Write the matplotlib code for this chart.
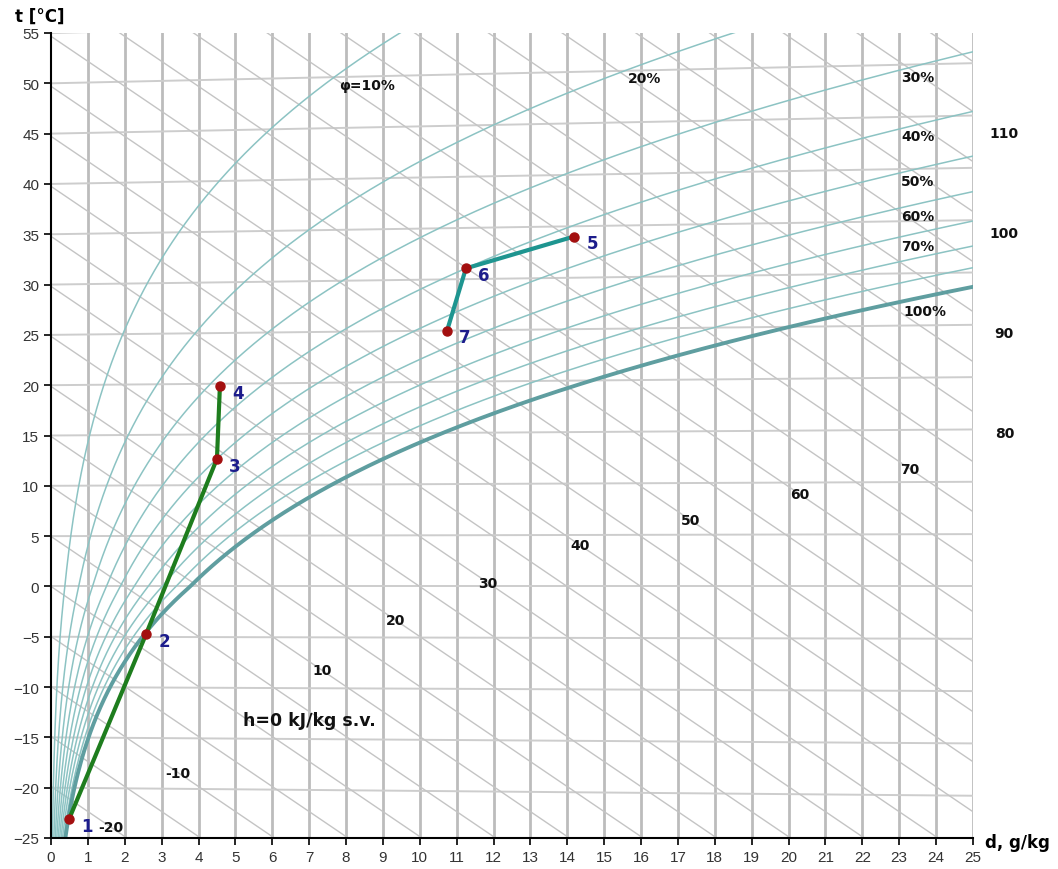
import numpy as np
import matplotlib
matplotlib.use("Agg")
import matplotlib.pyplot as plt

# chart data
pressure = 101325.0                       # Pa
isotherms = list(range(-25, 60, 5))       # t lines, deg C
isenthalps = list(range(-25, 120, 5))     # h lines, kJ/kg
phi_levels = [10, 20, 30, 40, 50, 60, 70, 80, 90, 100]   # %

# process 1-2-3-4 (d in g/kg, t in deg C)
proc_a_names = ["1", "2", "3", "4"]
proc_a_d = [0.49, 2.58, 4.50, 4.58]
proc_a_t = [-23.1, -4.7, 12.6, 19.8]

# process 5-6-7
proc_b_names = ["5", "6", "7"]
proc_b_d = [14.18, 11.25, 10.74]
proc_b_t = [34.0, 31.05, 25.0]

# enthalpy labels: value and d where they sit on their line
h_label_vals = [-20, -10, 10, 20, 30, 40, 50, 60, 70, 80, 90, 100, 110]
h_label_d = [1.62, 3.44, 7.35, 9.35, 11.85, 14.34, 17.33, 20.31, 23.29,
             25.85, 25.85, 25.85, 25.85]

# relative humidity labels
phi_label_text = ["φ=10%", "20%", "30%", "40%", "50%", "60%", "70%", "100%"]
phi_label_d = [8.57, 16.1, 23.5, 23.5, 23.5, 23.5, 23.5, 23.7]
phi_label_y = [49.8, 50.5, 50.6, 44.8, 40.3, 36.8, 33.8, 27.4]


def p_sat(t):
    t = np.asarray(t, dtype=float)
    water = 610.94 * np.exp(17.625 * t / (t + 243.04))
    ice = 611.15 * np.exp(22.452 * t / (272.55 + t))
    return np.where(t >= 0, water, ice)


def moisture(t, phi):
    ps = phi * p_sat(t)
    return 622.0 * ps / (pressure - ps)


def y_iso(t, d):
    # isotherms lean up slightly with moisture content
    return np.asarray(t) * (1 + 0.0016 * np.asarray(d))


def y_enth(h, d):
    return (h - 2.501 * np.asarray(d)) / 1.006


fig = plt.figure(figsize=(10.58, 8.7), dpi=100)
ax = fig.add_axes([51 / 1058, 1 - 839 / 870, 922 / 1058, 805 / 870])
ax.set_xlim(0, 25)
ax.set_ylim(-25, 55)

# vertical d grid
for d in range(1, 26):
    ax.axvline(d, color="#bcbcbc", lw=2.0, zorder=1)

dd = np.linspace(0, 25, 200)
for t in isotherms:
    ax.plot(dd, y_iso(t, dd), color="#cdcdcd", lw=1.4, zorder=1)
for h in isenthalps:
    ax.plot(dd, y_enth(h, dd), color="#c4c4c4", lw=1.0, zorder=1)

tt = np.linspace(-40, 100, 1500)
for phi in phi_levels:
    d = moisture(tt, phi / 100)
    ok = (d > 0) & (d < 40)
    if phi == 100:
        ax.plot(d[ok], y_iso(tt[ok], d[ok]), color="#5f9ea0", lw=2.8, zorder=3)
    else:
        ax.plot(d[ok], y_iso(tt[ok], d[ok]), color="#8cc3c3", lw=1.1, zorder=2)

# enthalpy labels
for h, d in zip(h_label_vals, h_label_d):
    ax.text(d, y_enth(h, d), str(h), ha="center", va="center", fontsize=10,
            fontweight="bold", color="#111111", zorder=6, clip_on=False)
ax.text(7.0, -13.3, "h=0 kJ/kg s.v.", ha="center", va="center", fontsize=12.5,
        fontweight="bold", color="#111111", zorder=6)

for txt, d, y in zip(phi_label_text, phi_label_d, phi_label_y):
    ax.text(d, y, txt, ha="center", va="center", fontsize=10,
            fontweight="bold", color="#111111", zorder=6)

# processes
ya = y_iso(proc_a_t, proc_a_d)
yb = y_iso(proc_b_t, proc_b_d)
ax.plot(proc_a_d, ya, color="#1e7d1e", lw=3, zorder=4, solid_capstyle="round")
ax.plot(proc_b_d, yb, color="#1e9590", lw=3, zorder=4, solid_capstyle="round")
ax.plot(proc_a_d, ya, "o", color="#a30f0f", ms=6.5, zorder=5)
ax.plot(proc_b_d, yb, "o", color="#a30f0f", ms=6.5, zorder=5)
for names, ds, ys in [(proc_a_names, proc_a_d, ya), (proc_b_names, proc_b_d, yb)]:
    for n, d, y in zip(names, ds, ys):
        ax.annotate(n, (d, y), xytext=(13, -5), textcoords="offset points",
                    ha="center", va="center", fontsize=12, fontweight="bold",
                    color="#1c1c8c", zorder=7)

# axes look
for s in ["top", "right"]:
    ax.spines[s].set_visible(False)
for s in ["left", "bottom"]:
    ax.spines[s].set_color("black")
    ax.spines[s].set_linewidth(1.5)
    ax.spines[s].set_zorder(6)
ax.set_xticks(range(0, 26))
ax.set_yticks(range(-25, 60, 5))
ax.tick_params(direction="out", length=5, width=1.2, colors="black",
               labelcolor="#333333", labelsize=11)
for lab in ax.get_xticklabels() + ax.get_yticklabels():
    lab.set_family("Liberation Sans")

fig.text(15 / 1058, 1 - 17 / 870, "t [°C]", ha="left", va="center",
         fontsize=12, fontweight="bold")
fig.text(985 / 1058, 1 - 843 / 870, "d, g/kg", ha="left", va="center",
         fontsize=12, fontweight="bold")

fig.savefig("out.png", dpi=100)
